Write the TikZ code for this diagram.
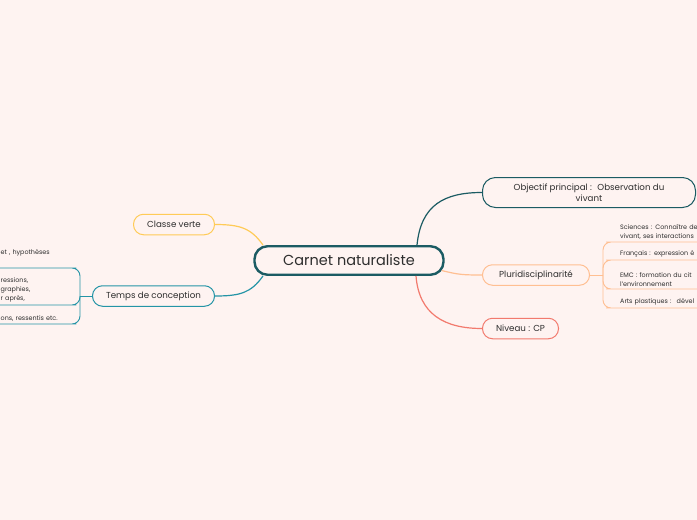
\documentclass[tikz,border=0pt]{standalone}
\usepackage{fontspec}
\setmainfont{Poppins}
\usepackage{xcolor}
\usepackage{tikz}
\usetikzlibrary{positioning, calc}
\definecolor{bgpink}{HTML}{FEF3F1}
\definecolor{rootteal}{HTML}{1B5B63}
\definecolor{tempsteal}{HTML}{2494A6}
\definecolor{classeyellow}{HTML}{FFCB57}
\definecolor{pluriorange}{HTML}{FFBF92}
\definecolor{niveausalmon}{HTML}{F27A6E}
\definecolor{textdark}{HTML}{2E2E2E}
\begin{document}
\begin{tikzpicture}[
      x=1pt, y=-1pt,
      rootbox/.style={rectangle, rounded corners=13pt, draw=rootteal, fill=bgpink, line width=2.4pt,
        minimum width=189pt, minimum height=28.5pt, font=\fontsize{14.5}{17}\selectfont, text=textdark},
      topicbox/.style={rectangle, rounded corners=10pt, draw=#1, fill=bgpink, line width=1pt,
        minimum height=20.5pt, font=\fontsize{8.7}{11.5}\selectfont, text=textdark, align=center},
      link/.style={line width=1.2pt, draw=#1},
      subline/.style={line width=0.9pt, draw=#1, rounded corners=8pt},
      subtext/.style={anchor=south west, inner xsep=6pt, inner ysep=2.5pt, text width=110pt, align=left,
        font=\fontsize{6.4}{9}\selectfont, text=textdark},
      subtextL/.style={anchor=south west, inner xsep=0.5pt, inner ysep=2.5pt, text width=67pt, align=left,
        font=\fontsize{6.4}{9}\selectfont, text=textdark}
    ]
    \fill[bgpink] (0,0) rectangle (697,520);
    \useasboundingbox (0,0) rectangle (697,520);
    % Central topic
    \node[rootbox] (root) at (349,260.5) {Carnet naturaliste};
    % Right: main topics
    \node[topicbox=rootteal, minimum width=213pt, minimum height=30pt, rounded corners=13pt] (obj) at (589,192.5)
      {Objectif principal :~ Observation du\\vivant};
    \node[topicbox=pluriorange, minimum width=107pt] (pluri) at (536,275) {Pluridisciplinarité};
    \node[topicbox=niveausalmon, minimum width=76pt] (niveau) at (520.5,328.5) {Niveau : CP};
    \draw[link=rootteal] ([xshift=68pt]root.north) .. controls +(4,-40) and +(-38,0) .. (obj.west);
    \draw[link=pluriorange] ([xshift=-3pt,yshift=-10pt]root.east) .. controls +(16,4) and +(-20,0) .. (pluri.west);
    \draw[link=niveausalmon] ([xshift=67pt]root.south) .. controls +(3,38) and +(-38,0) .. (niveau.west);
    % Left: main topics
    \node[topicbox=classeyellow, minimum width=81pt] (classe) at (174,224.5) {Classe verte};
    \node[topicbox=tempsteal, minimum width=122pt] (temps) at (153.5,296) {Temps de conception};
    \draw[link=classeyellow] ([xshift=-86pt]root.north) .. controls +(-12,-17) and +(25,0) .. (classe.east);
    \draw[link=tempsteal] ([xshift=-86pt]root.south) .. controls +(-12,17) and +(25,0) .. (temps.east);
    % Pluridisciplinarite: subtopics
    \coordinate[right=13pt of pluri] (pluri-j);
    \node[subtext] (sci) at (614,242) {Sciences : Connaître de\\vivant, ses interactions};
    \node[subtext] (fra) at (614,260) {Français : expression é};
    \node[subtext] (emc) at (614,289) {EMC : formation du cit\\l'environnement};
    \node[subtext] (arts) at (614,308) {Arts plastiques :~ dével};
    \draw[subline=pluriorange] (pluri.east) -- (pluri-j);
    \foreach \sub in {sci, fra, emc, arts}
      \draw[subline=pluriorange] (pluri-j) |- (\sub.south west) -- (\sub.south east);
    % Temps de conception: subtopics
    \coordinate[left=12pt of temps] (temps-j);
    \node[subtextL] (avant) at (0,268) {et , hypothèses\\[1.5pt]\mbox{}};
    \node[subtextL] (pendant) at (0,305) {ressions,\\graphies,\\r après,};
    \node[subtextL] (apres) at (0,324) {ons, ressentis etc.};
    \draw[subline=tempsteal] (temps.west) -- (temps-j);
    \foreach \sub in {avant, pendant, apres}
      \draw[subline=tempsteal] (temps-j) |- (\sub.south east) -- ([xshift=-5pt]\sub.south west);
\end{tikzpicture}
\end{document}
